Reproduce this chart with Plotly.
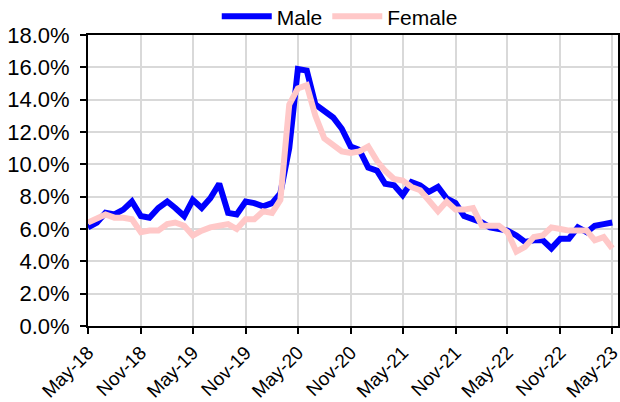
import pandas as pd
import plotly.graph_objects as go

months = pd.date_range("2018-05-01", periods=61, freq="MS")

male = [6.1, 6.4, 7.0, 6.9, 7.2, 7.7, 6.8, 6.7, 7.3, 7.7,
        7.3, 6.8, 7.8, 7.3, 7.9, 8.8, 7.0, 6.9, 7.7, 7.6,
        7.4, 7.6, 8.2, 11.0, 15.9, 15.8, 13.7, 13.3, 12.9, 12.2,
        11.1, 10.9, 9.8, 9.6, 8.8, 8.7, 8.1, 8.9, 8.7, 8.3,
        8.6, 7.9, 7.6, 6.8, 6.6, 6.4, 6.1, 6.0, 5.9, 5.6,
        5.2, 5.3, 5.3, 4.8, 5.4, 5.4, 6.1, 5.8, 6.2, 6.3, 6.4]

female = [6.4, 6.7, 6.9, 6.7, 6.7, 6.6, 5.8, 5.9, 5.9, 6.3,
          6.4, 6.2, 5.6, 5.9, 6.1, 6.2, 6.3, 6.0, 6.6, 6.6,
          7.1, 7.0, 7.8, 13.7, 14.7, 14.9, 13.0, 11.6, 11.2, 10.8,
          10.7, 10.8, 11.1, 10.2, 9.6, 9.1, 9.0, 8.6, 8.4, 7.7,
          7.1, 7.7, 7.2, 7.2, 7.3, 6.2, 6.2, 6.2, 5.8, 4.6,
          4.9, 5.5, 5.6, 6.1, 6.0, 5.9, 5.9, 5.9, 5.3, 5.5, 4.8]

tick_dates = pd.date_range("2018-05-01", "2023-05-01", freq="6MS")
tick_labels = [d.strftime("%b-%y") for d in tick_dates]
y_ticks = [0, 2, 4, 6, 8, 10, 12, 14, 16, 18]
y_labels = [f"{v:.1f}%" for v in y_ticks]

fig = go.Figure()
fig.add_trace(go.Scatter(x=months, y=male, name="Male", mode="lines",
                         line=dict(color="#0000FF", width=6)))
fig.add_trace(go.Scatter(x=months, y=female, name="Female", mode="lines",
                         line=dict(color="#FFC8C8", width=6)))

font = "Liberation Sans, Arial, sans-serif"
fig.update_layout(
    width=620, height=402,
    margin=dict(l=88, r=2, t=35, b=76, autoexpand=False),
    paper_bgcolor="white", plot_bgcolor="white",
    font=dict(family=font, size=19, color="black"),
    showlegend=True,
    legend=dict(orientation="h", x=0.475, xanchor="center", y=1.063, yanchor="middle",
                font=dict(size=21), itemwidth=50, tracegroupgap=0, bgcolor="rgba(0,0,0,0)"),
    xaxis=dict(
        type="date", automargin=False,
        range=[pd.Timestamp("2018-05-01"), pd.Timestamp("2023-05-21")],
        tickvals=tick_dates, ticktext=tick_labels, tickangle=-45,
        ticklabeloverflow="allow",
        showgrid=True, gridcolor="#D9D9D9", gridwidth=2,
        showline=True, linecolor="black", linewidth=2, mirror=True,
        ticks="outside", ticklen=6, tickcolor="black", tickwidth=2,
        tickfont=dict(size=19), zeroline=False,
    ),
    yaxis=dict(
        automargin=False,
        range=[0, 18], tickvals=y_ticks, ticktext=y_labels,
        ticklabeloverflow="allow",
        showgrid=True, gridcolor="#D9D9D9", gridwidth=2,
        showline=True, linecolor="black", linewidth=2, mirror=True,
        ticks="outside", ticklen=6, tickcolor="black", tickwidth=2,
        ticklabelstandoff=6,
        tickfont=dict(size=22), zeroline=False,
    ),
)

fig.write_html("out.html", config={"displayModeBar": False},
               post_script="document.body.style.margin='0';document.body.style.overflow='hidden';")
